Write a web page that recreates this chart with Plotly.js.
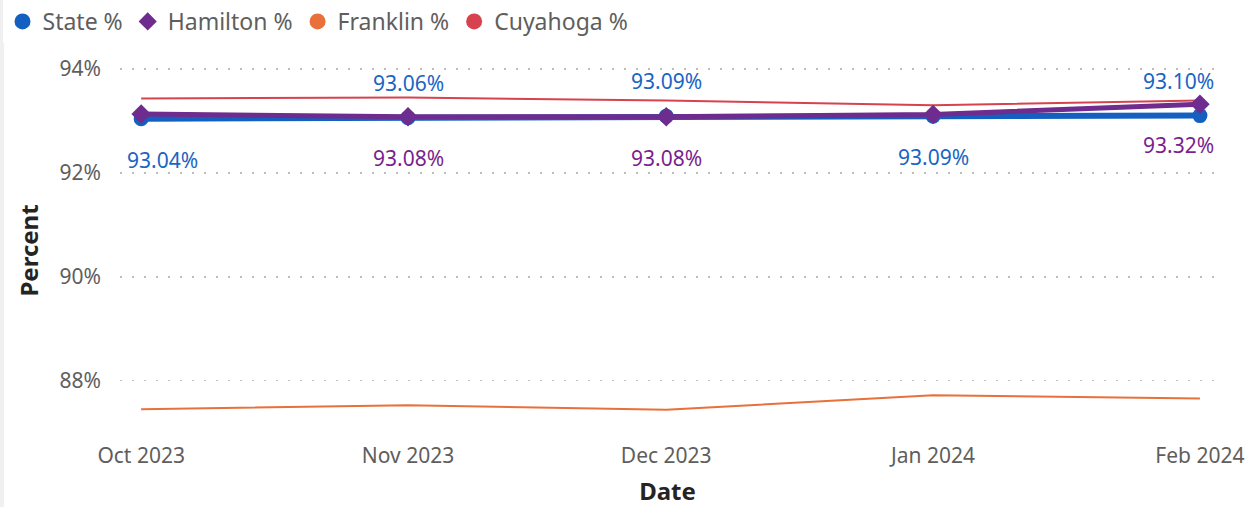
<!DOCTYPE html>
<html>
<head>
<meta charset="utf-8">
<script src="https://cdn.plot.ly/plotly-3.0.1.min.js"></script>
<style>
html,body{margin:0;padding:0;background:#fff;}
#chart{width:1253px;height:507px;}
</style>
</head>
<body>
<div id="chart"></div>
<script>
// ---- data ----
const dates = ['2023-10-01', '2023-11-01', '2023-12-01', '2024-01-01', '2024-02-01'];
const tickLabels = ['Oct 2023', 'Nov 2023', 'Dec 2023', 'Jan 2024', 'Feb 2024'];
const statePct = [93.04, 93.06, 93.09, 93.09, 93.10];
const hamiltonPct = [93.13, 93.08, 93.08, 93.12, 93.32];
const franklinPct = [87.45, 87.53, 87.44, 87.72, 87.66];
const cuyahogaPct = [93.43, 93.45, 93.39, 93.30, 93.39];
const seriesNames = ['State %', 'Hamilton %', 'Franklin %', 'Cuyahoga %'];

// ---- styling ----
const colState = '#1460C0';
const colHam = '#6E2C8E';
const colFrank = '#E8703A';
const colCuy = '#D6434F';
const font = '"Segoe UI", "Noto Sans", "Open Sans", sans-serif';

// which points carry labels (display choice)
const stateLabelSide = ['below', 'above', 'above', 'below', 'above'];
const hamLabelShow = [false, true, true, false, true];

const traces = [
  {x: dates, y: franklinPct, mode: 'lines', line: {color: colFrank, width: 2}, showlegend: false, hoverinfo: 'skip'},
  {x: dates, y: cuyahogaPct, mode: 'lines', line: {color: colCuy, width: 2}, showlegend: false, hoverinfo: 'skip'},
  {x: dates, y: statePct, mode: 'lines+markers', line: {color: colState, width: 6},
   marker: {symbol: 'circle', size: 15, color: colState}, showlegend: false},
  {x: dates, y: hamiltonPct, mode: 'lines+markers', line: {color: colHam, width: 5},
   marker: {symbol: 'diamond', size: 15, color: colHam}, showlegend: false},
  // legend entries
  {x: [null], y: [null], mode: 'markers', name: seriesNames[0], marker: {symbol: 'circle', size: 16, color: colState}},
  {x: [null], y: [null], mode: 'markers', name: seriesNames[1], marker: {symbol: 'diamond', size: 14, color: colHam}},
  {x: [null], y: [null], mode: 'markers', name: seriesNames[2], marker: {symbol: 'circle', size: 16, color: colFrank}},
  {x: [null], y: [null], mode: 'markers', name: seriesNames[3], marker: {symbol: 'circle', size: 16, color: colCuy}}
];

const n = dates.length;
function edgeAnchor(i) {
  if (i === 0) return {xanchor: 'left', xshift: -16};
  if (i === n - 1) return {xanchor: 'right', xshift: 16};
  return {xanchor: 'center', xshift: 0};
}

const annotations = [];
dates.forEach((d, i) => {
  const above = stateLabelSide[i] === 'above';
  annotations.push(Object.assign({
    x: d, y: statePct[i], xref: 'x', yref: 'y',
    text: statePct[i].toFixed(2) + '%', showarrow: false,
    yshift: above ? 35 : -41,
    font: {family: font, size: 21, color: '#1A64C4'}
  }, edgeAnchor(i)));
  if (hamLabelShow[i]) {
    annotations.push(Object.assign({
      x: d, y: hamiltonPct[i], xref: 'x', yref: 'y',
      text: hamiltonPct[i].toFixed(2) + '%', showarrow: false,
      yshift: -41,
      font: {family: font, size: 21, color: '#7A1F8E'}
    }, edgeAnchor(i)));
  }
});

const layout = {
  width: 1253, height: 507,
  paper_bgcolor: '#ffffff', plot_bgcolor: '#ffffff',
  margin: {l: 120, r: 38, t: 60, b: 66},
  font: {family: font, color: '#605E5C'},
  showlegend: true,
  legend: {
    orientation: 'h', xref: 'container', yref: 'container',
    x: 0.002, y: 1.0, xanchor: 'left', yanchor: 'top',
    font: {family: font, size: 23, color: '#605E5C'},
    itemwidth: 30, tracegroupgap: 0, itemclick: false
  },
  xaxis: {
    type: 'date',
    range: ['2023-09-28 13:00', '2024-02-02 18:00'],
    tickvals: dates, ticktext: tickLabels,
    showgrid: false, zeroline: false, showline: false,
    ticks: '', tickfont: {family: font, size: 21, color: '#605E5C'},
    title: {text: 'Date', font: {family: font, size: 24, color: '#252423', weight: 'bold'}, standoff: 16}
  },
  yaxis: {
    range: [86.84, 94.17],
    tickvals: [88, 90, 92, 94], ticktext: ['88%', '90%', '92%', '94%'],
    showgrid: true, gridcolor: '#BDBDBD', griddash: '2px,10px', gridwidth: 1.5,
    zeroline: false, showline: false, ticks: '',
    tickfont: {family: font, size: 21, color: '#605E5C'},
    ticklabelstandoff: 18,
    title: {text: 'Percent', font: {family: font, size: 24, color: '#252423', weight: 'bold'}, standoff: 14}
  },
  annotations: annotations,
  shapes: [
    {type: 'line', xref: 'paper', yref: 'paper', x0: -120/1095, x1: -120/1095, y0: -66/381, y1: 1 + 60/381, line: {color: '#F0F0F0', width: 8}}
  ]
};

Plotly.newPlot('chart', traces, layout, {displayModeBar: false, staticPlot: true});
</script>
</body>
</html>
